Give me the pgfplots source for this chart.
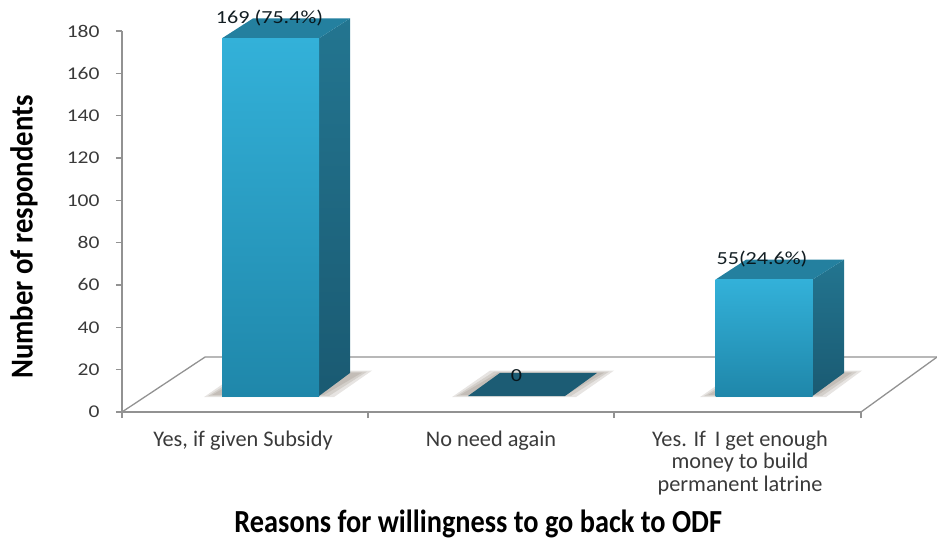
\documentclass[border=0pt]{standalone}
\usepackage{fontspec}
\setmainfont{Carlito}
\newfontfamily\widefont[FakeStretch=1.2]{Carlito}
\newfontfamily\narrowfont[FakeStretch=0.88]{Carlito}
\newfontfamily\slimfont[FakeStretch=0.9]{Carlito}
\usepackage{pgfplots}
\pgfplotsset{compat=1.18}
\definecolor{axisgrey}{HTML}{929292}
\definecolor{labelgrey}{HTML}{3A3A3A}
\definecolor{barbright}{HTML}{33B1D9}
\definecolor{barmid}{HTML}{2EA8CF}
\definecolor{bardeep}{HTML}{1F87AA}
\definecolor{sidetop}{HTML}{237590}
\definecolor{sidelow}{HTML}{1A5A72}
\definecolor{roof}{HTML}{24809F}
\definecolor{flat}{HTML}{1C5C74}
\definecolor{shadowtone}{HTML}{85796C}
\pgfplotsset{
  stage/.style={
    scale only axis,
    width=739bp,
    height=381bp,
    at={(122bp,129bp)},
    anchor=south west,
    xmin=122, xmax=861,
  },
  drop/.style={fill=shadowtone, fill opacity=0.2, draw=none, forget plot},
}
\begin{document}
\begin{tikzpicture}
\useasboundingbox (0,0) rectangle (937bp,541bp);

% Value axis and category axis
\begin{axis}[
  stage,
  ymin=0, ymax=180,
  axis x line*=bottom,
  axis y line*=left,
  axis line style={axisgrey, line width=1.4bp, -},
  tick style={axisgrey, line width=1.2bp},
  tick align=outside,
  major tick length=6bp,
  ytick={0,20,...,180},
  /pgf/number format/assume math mode=true,
  y tick label style={font=\fontsize{18}{20}\selectfont\widefont, text=labelgrey, xshift=-13bp},
  xtick={122,368,614,861},
  xticklabels={},
  extra x ticks={243,491,740},
  extra x tick labels={{Yes, if given Subsidy},{No need again},{Yes. If\, I get enough\\money to build\\permanent latrine}},
  extra x tick style={
    major tick length=0pt,
    tick label style={
      font=\fontsize{22.4}{23}\selectfont,
      text=labelgrey, align=center, anchor=north, yshift=-15bp},
  },
  ylabel={\fontsize{32}{34}\selectfont\slimfont\bfseries Number of respondents},
  every axis y label/.style={at={(axis description cs:-0.1326,0.459)}, rotate=90, anchor=center},
  xlabel={\fontsize{32.3}{34}\selectfont\narrowfont\bfseries Reasons for willingness to go back to ODF},
  every axis x label/.style={at={(axis description cs:0.482,-0.293)}, anchor=center},
]
\end{axis}

% Floor and columns, measured from the front edge of the floor
\begin{axis}[
  stage,
  ymin=-7.55, ymax=172.45,
  hide axis,
  clip=false,
]
  % floor outline
  \addplot[axisgrey, line width=1.3bp, forget plot] coordinates {(122,-7.55) (205,18.4) (937,18.4)};
  \addplot[axisgrey, line width=1.3bp, forget plot] coordinates {(861,-7.55) (937,18.4)};

  % cast shadows, three soft layers each
  \addplot[drop] coordinates {(204,-0.5) (242,12) (372,12) (334,-0.5)} -- cycle;
  \addplot[drop] coordinates {(208,0) (246,11.5) (367,11.5) (329,0)} -- cycle;
  \addplot[drop] coordinates {(212,0.5) (250,11) (362,11) (324,0.5)} -- cycle;
  \addplot[drop] coordinates {(452,-0.5) (490,12) (614,12) (576,-0.5)} -- cycle;
  \addplot[drop] coordinates {(456,0) (494,11.5) (609,11.5) (571,0)} -- cycle;
  \addplot[drop] coordinates {(460,0.5) (498,11) (604,11) (566,0.5)} -- cycle;
  \addplot[drop] coordinates {(700,-0.5) (738,12) (862,12) (826,-0.5)} -- cycle;
  \addplot[drop] coordinates {(704,0) (742,11.5) (857,11.5) (822,0)} -- cycle;
  \addplot[drop] coordinates {(708,0.5) (746,11) (852,11) (818,0.5)} -- cycle;

  % side faces
  \addplot[draw=none, top color=sidetop, bottom color=sidelow, forget plot]
    coordinates {(319,0) (350,10.9) (350,178.4) (319,169)} -- cycle;
  \addplot[draw=none, top color=sidetop, bottom color=sidelow, forget plot]
    coordinates {(812.5,0) (844,10.9) (844,64.4) (812.5,55)} -- cycle;

  % top faces
  \addplot[draw=none, fill=roof, forget plot]
    coordinates {(222,169) (253,178.4) (350,178.4) (319,169)} -- cycle;
  \addplot[draw=none, fill=roof, forget plot]
    coordinates {(715.5,55) (746,64.4) (844,64.4) (812.5,55)} -- cycle;
  \addplot[draw=none, fill=flat, forget plot]
    coordinates {(468,0) (500,10.9) (597,10.9) (565,0)} -- cycle;

  % front faces
  \addplot[ybar, bar width=97bp, bar shift=0pt, draw=none,
           top color=barbright, middle color=barmid, bottom color=bardeep, forget plot]
    coordinates {(270.5,169)};
  \addplot[ybar, bar width=97bp, bar shift=0pt, draw=none,
           top color=barbright, middle color=barmid, bottom color=bardeep, forget plot]
    coordinates {(764,55)};

  % value labels
  \addplot[draw=none, mark=none, forget plot,
           point meta=explicit symbolic,
           nodes near coords,
           every node near coord/.style={
             anchor=center, yshift=20.5bp, text=black!80!flat, opacity=0.95,
             font=\fontsize{18.5}{20}\selectfont\widefont}]
    coordinates {(269.5,169)[169 (75.4\%)] (516.5,0)[0] (762,55)[55(24.6\%)]};
\end{axis}
\end{tikzpicture}
\end{document}
